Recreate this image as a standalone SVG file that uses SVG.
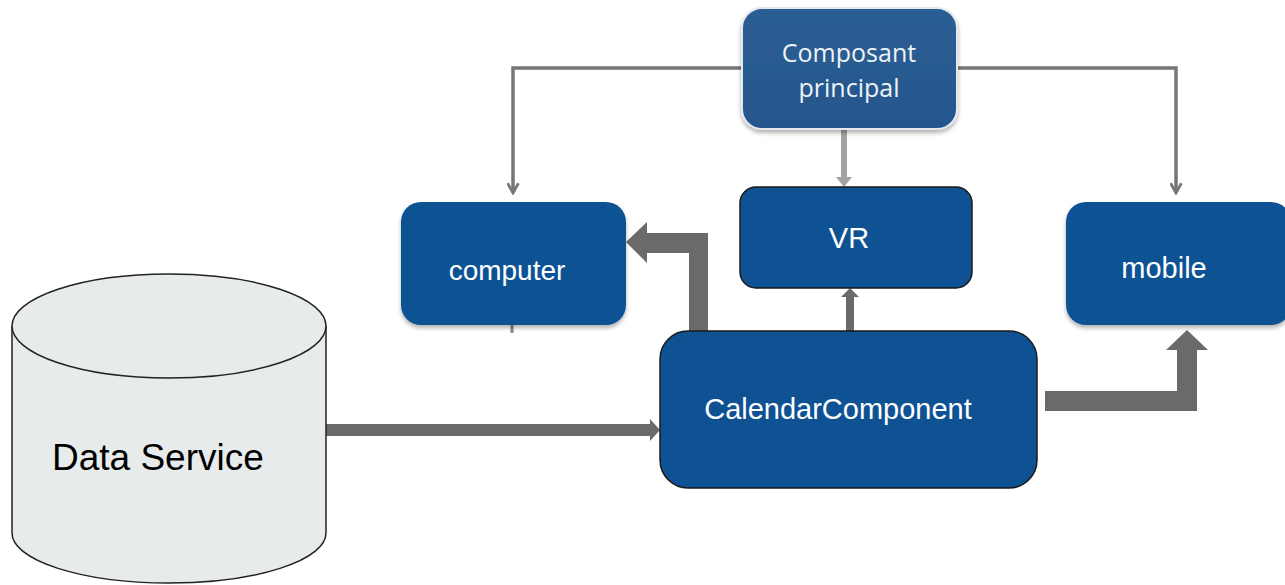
<svg xmlns="http://www.w3.org/2000/svg" width="1285" height="585" viewBox="0 0 1285 585">
<style>
.lbl{font-family:"Liberation Sans",Arial,sans-serif;fill:#ffffff;text-anchor:middle}
.box{fill:#0f5294}
.thin{fill:none;stroke:#767676;stroke-width:3.5}
.thick{fill:#6a6a6a}
.cp{font-family:"Open Sans","Noto Sans",sans-serif;font-size:25px;font-weight:500;fill:#eef3f8;text-anchor:middle}
</style>
<defs>
<filter id="sh" x="-10%" y="-10%" width="120%" height="130%">
<feDropShadow dx="0" dy="3" stdDeviation="2" flood-color="#000" flood-opacity="0.3"/>
</filter>
<linearGradient id="gp" x1="0" y1="0" x2="0" y2="1">
<stop offset="0" stop-color="#2c5e93"/>
<stop offset="1" stop-color="#24578d"/>
</linearGradient>
<marker id="ah" viewBox="0 0 12 12" refX="10" refY="6" markerWidth="13" markerHeight="13" markerUnits="userSpaceOnUse" orient="auto">
<path d="M1,1 L10,6 L1,11" fill="none" stroke="#767676" stroke-width="2.5"/>
</marker>
</defs>
<g id="connectors">
<polyline class="thin" points="742,68 513,68 513,193" marker-end="url(#ah)"/>
<polyline class="thin" points="957,68 1176,68 1176,193" marker-end="url(#ah)"/>
<line x1="512" y1="325" x2="512" y2="333" stroke="#888" stroke-width="3"/>
<rect x="841" y="130" width="6" height="47" fill="#a3a3a3"/>
<polygon points="836,177 852,177 844,187" fill="#a3a3a3"/>
<polygon class="thick" points="689,331 689,253 647,253 647,263 626,242 647,222 647,233 708,233 708,331"/>
<polygon class="thick" points="846,331 846,297 841,297 850,288 859,297 854,297 854,331"/>
<polygon class="thick" points="1045,391 1177,391 1177,350 1166,350 1187,330 1208,350 1197,350 1197,411 1045,411"/>
<polygon class="thick" points="326,424 650,424 650,419 660,430 650,441 650,436 326,436"/>
</g>
<g id="composant">
<rect x="742" y="8" width="215" height="121" rx="20" fill="url(#gp)" stroke="#e4e8ee" stroke-width="2" filter="url(#sh)"/>
<text x="849" y="62" class="cp">Composant</text>
<text x="849" y="97" class="cp">principal</text>
</g>
<g id="computer">
<rect x="401" y="202" width="225" height="123" rx="20" class="box" filter="url(#sh)"/>
<text x="507" y="280" class="lbl" font-size="28">computer</text>
</g>
<g id="vr">
<rect x="740" y="187" width="232" height="101" rx="16" class="box" stroke="#1a1a1a" stroke-width="1.5"/>
<text x="849" y="248" class="lbl" font-size="29">VR</text>
</g>
<g id="mobile">
<rect x="1066" y="202" width="225" height="123" rx="20" class="box" filter="url(#sh)"/>
<text x="1164" y="278" class="lbl" font-size="29">mobile</text>
</g>
<g id="calendar">
<rect x="660" y="331" width="377" height="157" rx="28" class="box" stroke="#1a1a1a" stroke-width="1.5"/>
<text x="838" y="419" class="lbl" font-size="29">CalendarComponent</text>
</g>
<g id="dataservice">
<path d="M12,326 L12,533 A157,50 0 0 0 326,533 L326,326" fill="#e8ebec" stroke="#222" stroke-width="1.5"/>
<ellipse cx="169" cy="326" rx="157" ry="52" fill="#e8ebec" stroke="#222" stroke-width="1.5"/>
<text x="52" y="470" font-family="'Liberation Sans',Arial,sans-serif" font-size="37" fill="#000">Data Service</text>
</g>
</svg>
